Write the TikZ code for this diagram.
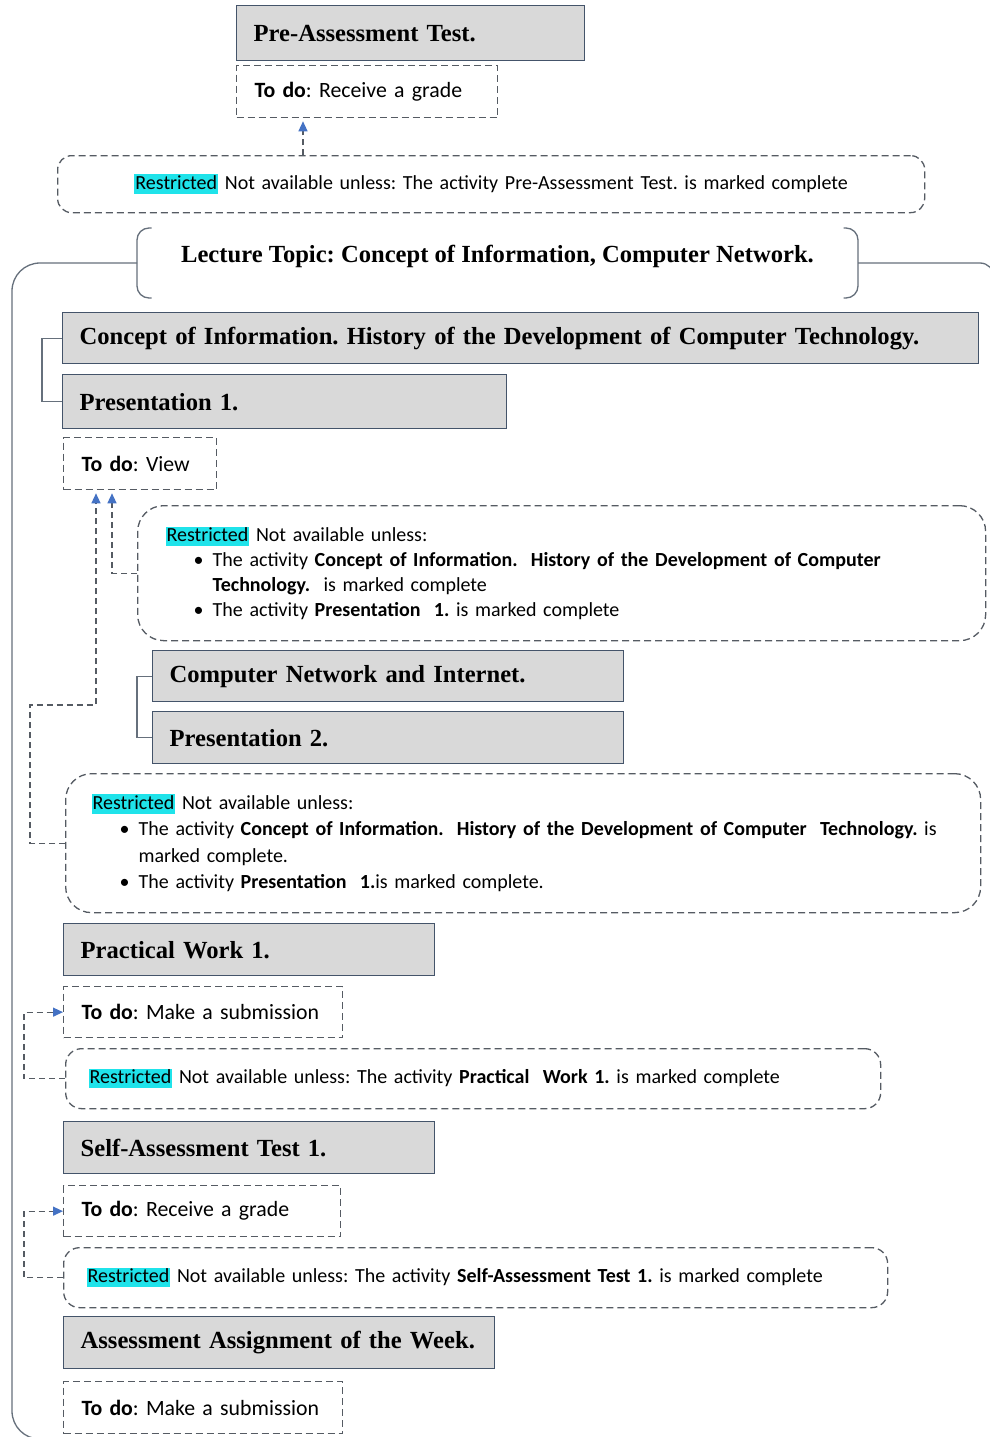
\documentclass[tikz,border=0pt]{standalone}
\usepackage{fontspec}
\setmainfont{Carlito}
\newfontfamily\headfont{Liberation Serif}
\usetikzlibrary{arrows.meta,calc}

\definecolor{headfill}{HTML}{D9D9D9}
\definecolor{headline}{HTML}{44546A}
\definecolor{dashgray}{HTML}{555B63}
\definecolor{linegray}{HTML}{66707C}
\definecolor{arrowblue}{HTML}{4472C4}
\definecolor{hlcyan}{HTML}{1FE3EA}

\frenchspacing
\hyphenpenalty=10000
\exhyphenpenalty=10000

% highlighted status word
\newcommand\restr{{\setlength{\fboxsep}{1pt}\colorbox{hlcyan}{\vphantom{Rg}Restricted}}}
% bullet with hanging indent
\newcommand\bul{\makebox[47pt][r]{\textbullet\hspace{9pt}}}

\tikzset{
  headbox/.style={draw=headline, line width=1.3pt, fill=headfill, anchor=north west,
    inner xsep=17pt, inner ysep=0pt, align=left, text=black,
    font=\headfont\bfseries\fontsize{24.6}{30}\selectfont},
  todobox/.style={draw=dashgray, line width=1.3pt, dash pattern=on 7pt off 4pt,
    anchor=north west, inner xsep=18pt, inner ysep=0pt, align=left,
    font=\fontsize{21.8}{26}\selectfont},
  restrbox/.style={draw=dashgray, line width=1.3pt, dash pattern=on 7pt off 4pt,
    anchor=north west, inner ysep=0pt, font=\fontsize{20}{25}\selectfont},
  dconn/.style={draw=dashgray, line width=1.3pt, dash pattern=on 6pt off 4pt},
  blueend/.style={-{Triangle[length=10pt,width=9pt,color=arrowblue]}},
  sconn/.style={draw=linegray, line width=1.2pt},
  outerline/.style={draw=linegray, line width=1.3pt},
}

\begin{document}
\begin{tikzpicture}[x=1pt,y=-1pt]
\clip (0,0) rectangle (990,1437);
\fill[white] (0,0) rectangle (990,1437);

% pre-assessment block
\node[headbox, text width=314pt, minimum height=55pt] (pre) at (236,5) {Pre-Assessment Test.};
\node[todobox, text width=225pt, minimum height=52pt] (t0) at (236,65) {\textbf{To do}: Receive a grade};
\node[restrbox, rounded corners=14pt, text width=847pt, inner xsep=10pt, minimum height=57pt, align=center] (r1) at (57,155)
  {\restr{} Not available unless: The activity Pre-Assessment Test. is marked complete};
\coordinate (p0) at ($(t0.south west)+(67,3)$);
\draw[dconn, blueend] (r1.north -| p0) -- (p0);

% lecture topic with bracket pair and frame
\node[font=\headfont\bfseries\fontsize{24.6}{30}\selectfont, minimum width=721pt, minimum height=70pt, inner sep=0pt] (lt) at (497.5,256)
  {Lecture Topic: Concept of Information, Computer Network.};
\draw[outerline, rounded corners=12pt] ($(lt.center)+(-346,-28)$) -- ($(lt.center)+(-360.5,-28)$) -- ($(lt.center)+(-360.5,42)$) -- ($(lt.center)+(-346,42)$);
\draw[outerline, rounded corners=12pt] ($(lt.center)+(346,-28)$) -- ($(lt.center)+(360.5,-28)$) -- ($(lt.center)+(360.5,42)$) -- ($(lt.center)+(346,42)$);
\draw[outerline, rounded corners=28pt] ($(lt.center)+(-360.5,7)$) -- (12,263) -- (12,1439) -- (70,1439);
\draw[outerline, rounded corners=14pt] ($(lt.center)+(360.5,7)$) -- (994,263) -- (994,420);

% first section
\node[headbox, text width=882pt, minimum height=51pt] (h1) at (62,312) {Concept of Information. History of the Development of Computer Technology.};
\node[headbox, text width=410pt, minimum height=54pt] (h2) at (62,374) {Presentation 1.};
\draw[sconn] (h1.west) -- ++(-20,0) |- (h2.west);
\node[todobox, text width=117pt, minimum height=52pt] (tv) at (63,437) {\textbf{To do}: View};
\node[restrbox, rounded corners=26pt, text width=792pt, inner xsep=28pt, minimum height=135pt, align=left] (r2) at (137,505)
  {\restr{} Not available unless:\\
   \bul The activity \textbf{Concept of Information.\ \ History of the Development of Computer}\\
   \hspace*{47pt}\textbf{Technology.}\ \ is marked complete\\
   \bul The activity \textbf{Presentation\ \ 1.} is marked complete};

% second section
\node[headbox, text width=437pt, minimum height=51pt] (h3) at (152,650) {Computer Network and Internet.};
\node[headbox, text width=437pt, minimum height=52pt] (h4) at (152,711) {Presentation 2.};
\draw[sconn] (h3.west) -- ++(-15,0) |- (h4.west);
\node[restrbox, rounded corners=26pt, text width=863pt, inner xsep=26pt, minimum height=139pt, align=left, font=\fontsize{20}{26.5}\selectfont] (r3) at (65,773)
  {\restr{} Not available unless:\\
   \bul The activity \textbf{Concept of Information.\ \ History of the Development of Computer\ \ Technology.} is\\
   \hspace*{47pt}marked complete.\\
   \bul The activity \textbf{Presentation\ \ 1.}is marked complete.};

% connectors into the view task
\coordinate (v1) at ($(tv.south west)+(49,3)$);
\coordinate (v2) at ($(tv.south west)+(33,3)$);
\coordinate (j1) at (30,705);
\draw[dconn, blueend] (r2.west) -| (v1);
\draw[dconn, blueend] (r3.west) -| (j1) -| (v2);

% practical work
\node[headbox, text width=337pt, minimum height=52pt] (h5) at (63,923) {Practical Work 1.};
\node[todobox, text width=243pt, minimum height=51pt] (t5) at (63,986) {\textbf{To do}: Make a submission};
\node[restrbox, rounded corners=16pt, text width=769pt, inner xsep=23pt, minimum height=60pt, align=left] (r4) at (65,1048)
  {\restr{} Not available unless: The activity \textbf{Practical\ \ Work 1.} is marked complete};
\draw[dconn, blueend] (r4.west) -- ++(-41,0) |- (t5.west);

% self-assessment
\node[headbox, text width=337pt, minimum height=52pt] (h6) at (63,1121) {Self-Assessment Test 1.};
\node[todobox, text width=241pt, minimum height=51pt] (t6) at (63,1185) {\textbf{To do}: Receive a grade};
\node[restrbox, rounded corners=16pt, text width=778pt, inner xsep=23pt, minimum height=60pt, align=left] (r5) at (63,1247)
  {\restr{} Not available unless: The activity \textbf{Self-Assessment Test 1.} is marked complete};
\draw[dconn, blueend] (r5.west) -- ++(-39,0) |- (t6.west);

% weekly assignment
\node[headbox, text width=397pt, minimum height=52pt] (h7) at (63,1316) {Assessment Assignment of the Week.};
\node[todobox, text width=243pt, minimum height=52pt] (t7) at (63,1381) {\textbf{To do}: Make a submission};
\end{tikzpicture}
\end{document}
